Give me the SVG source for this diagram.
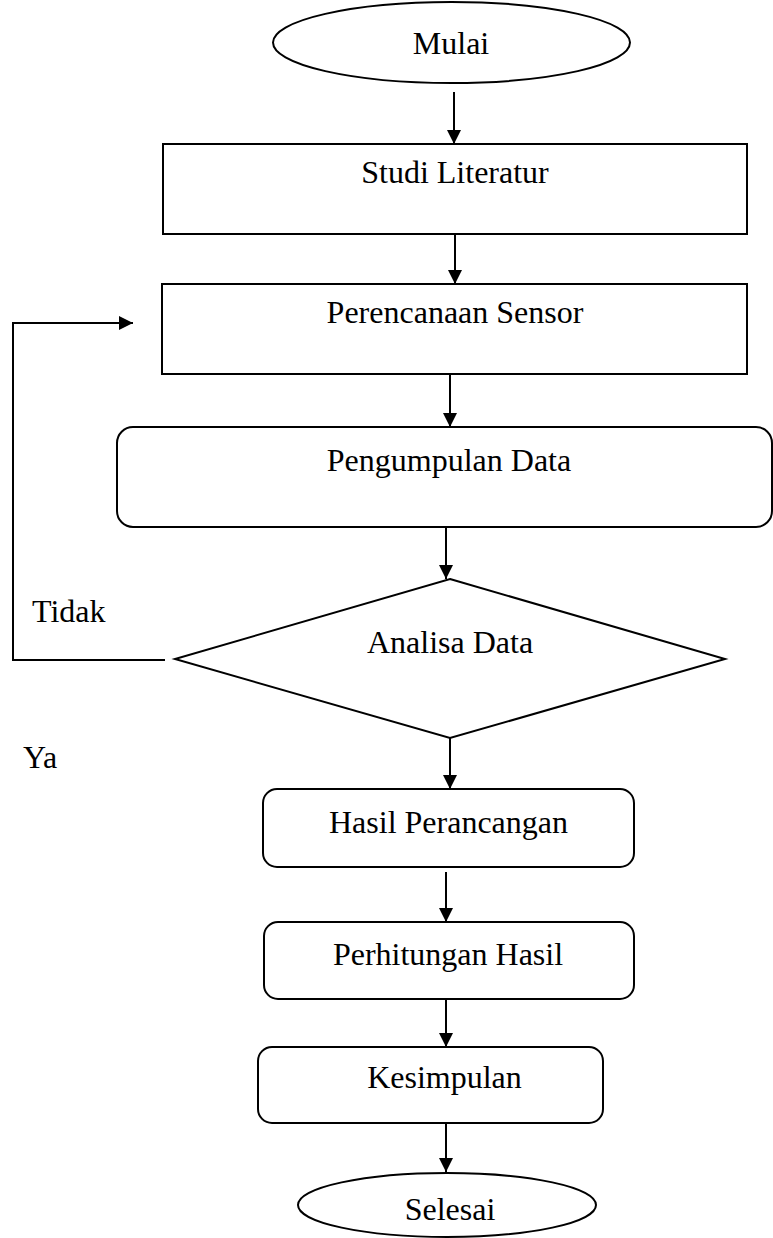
<svg xmlns="http://www.w3.org/2000/svg" width="773" height="1238" viewBox="0 0 773 1238">
<style>
.s{fill:#fff;stroke:#000;stroke-width:2}
.t{font-family:"Liberation Serif","Times New Roman",serif;font-size:32px;fill:#000;text-anchor:middle}
.l{font-family:"Liberation Serif","Times New Roman",serif;font-size:32px;fill:#000}
.c{fill:none;stroke:#000;stroke-width:2;marker-end:url(#ah)}
</style>
<defs>
<marker id="ah" markerUnits="userSpaceOnUse" markerWidth="14" markerHeight="14" refX="14" refY="7" orient="auto">
<path d="M0,0 L14,7 L0,14 z" fill="#000"/>
</marker>
</defs>
<rect width="773" height="1238" fill="#fff"/>
<g id="connectors">
<line class="c" x1="454" y1="92" x2="454" y2="144"/>
<line class="c" x1="455" y1="234" x2="455" y2="284"/>
<line class="c" x1="450" y1="374" x2="450" y2="427"/>
<line class="c" x1="446" y1="527" x2="446" y2="579"/>
<line class="c" x1="450" y1="738" x2="450" y2="789"/>
<line class="c" x1="446" y1="872" x2="446" y2="922"/>
<line class="c" x1="446" y1="999" x2="446" y2="1047"/>
<line class="c" x1="446" y1="1123" x2="446" y2="1172"/>
<polyline class="c" points="165,660 13,660 13,323 133,323"/>
</g>
<g id="mulai"><ellipse class="s" cx="451.5" cy="42.5" rx="178.5" ry="40.5"/><text class="t" x="451" y="54">Mulai</text></g>
<g id="studi"><rect class="s" x="163" y="144" width="584" height="90"/><text class="t" x="455" y="183">Studi Literatur</text></g>
<g id="perencanaan"><rect class="s" x="162" y="284" width="585" height="90"/><text class="t" x="455" y="323">Perencanaan Sensor</text></g>
<g id="pengumpulan"><rect class="s" x="117" y="427" width="655" height="100" rx="16"/><text class="t" x="449" y="471">Pengumpulan Data</text></g>
<g id="analisa"><polygon class="s" points="450,579 725,659 450,738 175,659"/><text class="t" x="450" y="653">Analisa Data</text></g>
<g id="hasil"><rect class="s" x="263" y="789" width="371" height="78" rx="14"/><text class="t" x="448.5" y="833">Hasil Perancangan</text></g>
<g id="perhitungan"><rect class="s" x="264" y="922" width="370" height="77" rx="14"/><text class="t" x="448" y="965">Perhitungan Hasil</text></g>
<g id="kesimpulan"><rect class="s" x="258" y="1047" width="345" height="76" rx="14"/><text class="t" x="444.5" y="1088">Kesimpulan</text></g>
<g id="selesai"><ellipse class="s" cx="447" cy="1205" rx="149" ry="32"/><text class="t" x="450" y="1220">Selesai</text></g>
<g id="labels"><text class="l" x="32" y="622">Tidak</text><text class="l" x="23" y="768">Ya</text></g>
</svg>
